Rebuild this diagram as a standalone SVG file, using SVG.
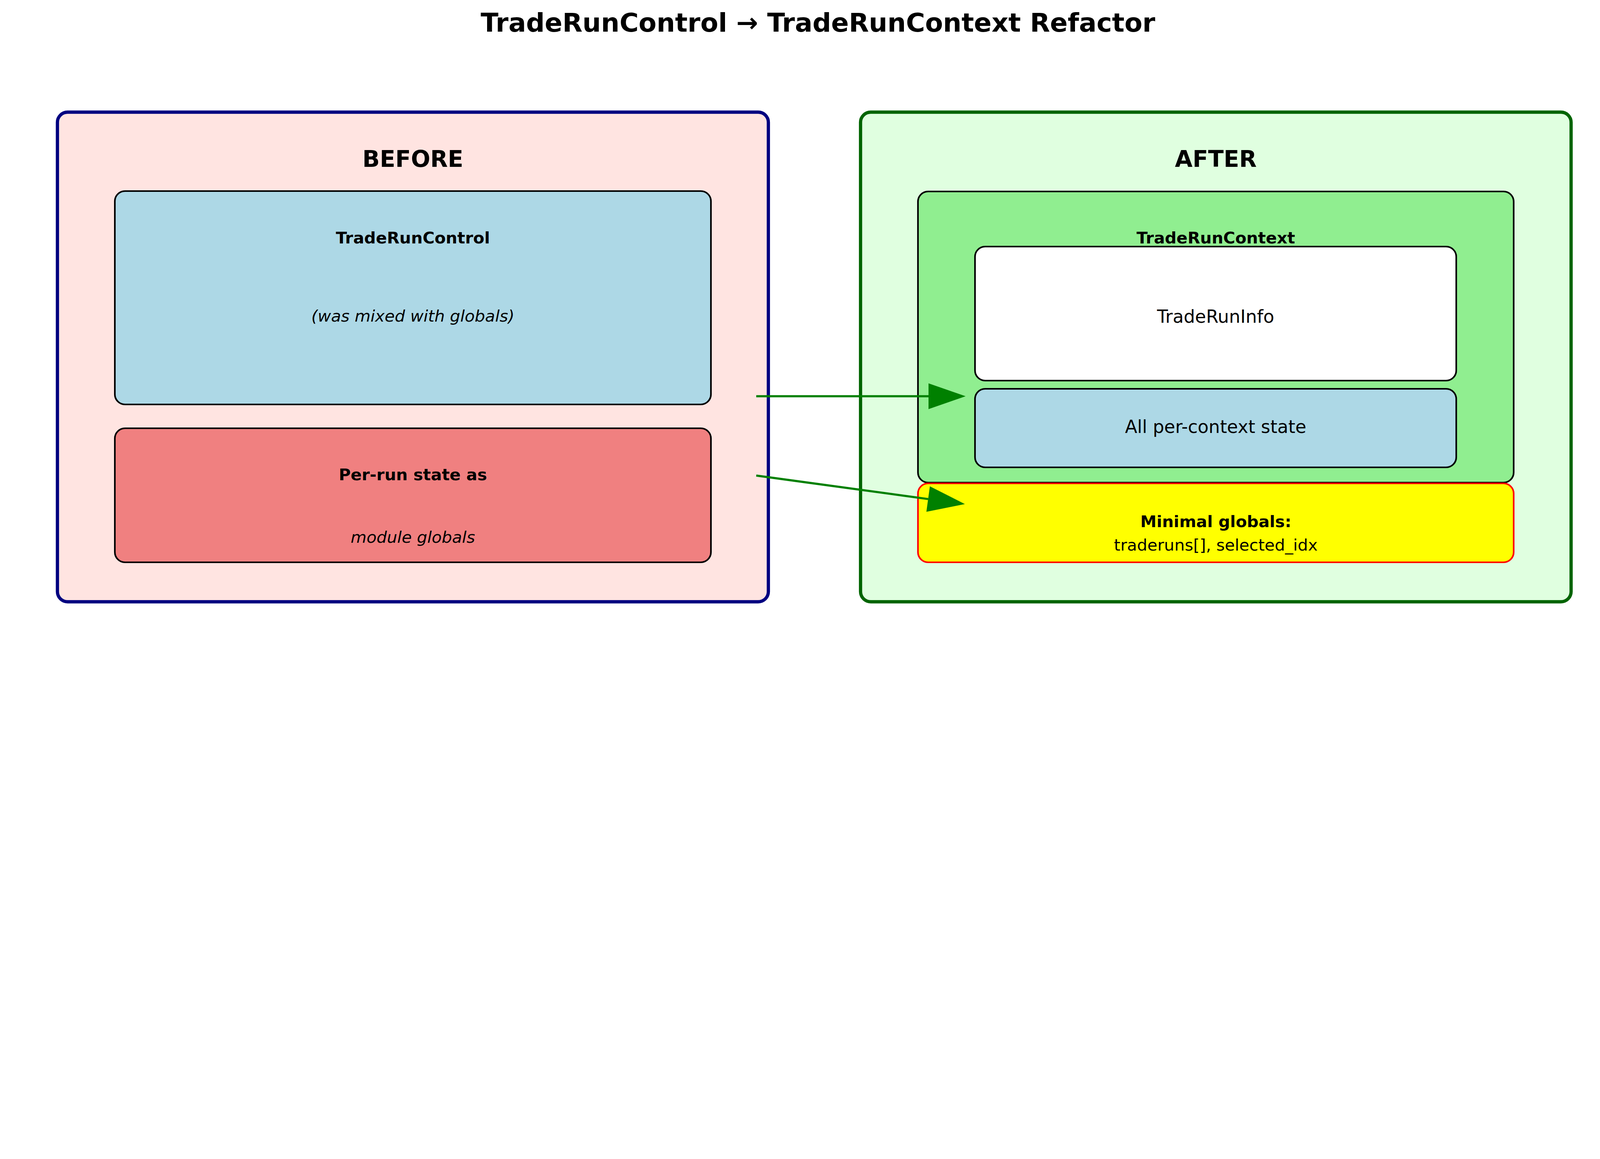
<svg xmlns="http://www.w3.org/2000/svg" width="4170" height="2966" viewBox="0 0 4170 2966">
<style>
  text { font-family: "DejaVu Sans", "Liberation Sans", sans-serif; fill: #000; text-anchor: middle; }
  .title { font-size: 66.7px; font-weight: bold; }
  .head { font-size: 58.3px; font-weight: bold; }
  .b10 { font-size: 41.7px; font-weight: bold; }
  .i10 { font-size: 41.7px; font-style: italic; }
  .n10 { font-size: 41.7px; }
  .n11 { font-size: 45.8px; }
  .inner { stroke: #000; stroke-width: 4.17; }
  .conn { stroke: #008000; stroke-width: 5.5; fill: none; marker-end: url(#ah); }
</style>
<defs>
  <marker id="ah" markerUnits="userSpaceOnUse" markerWidth="96" markerHeight="66" viewBox="0 0 95 66" refX="0" refY="33" orient="auto">
    <path d="M0,0 L95,33 L0,66 Z" fill="#008000"/>
  </marker>
</defs>
<rect x="0" y="0" width="4170" height="2966" fill="#ffffff"/>
<text class="title" x="2094" y="81">TradeRunControl → TradeRunContext Refactor</text>

<g id="before">
  <rect x="147" y="287" width="1820" height="1253" rx="26" ry="26" fill="#ffe4e1" stroke="#000080" stroke-width="8.33"/>
  <text class="head" x="1057" y="427">BEFORE</text>
</g>
<g id="after">
  <rect x="2203" y="287" width="1819" height="1253" rx="26" ry="26" fill="#e0ffe0" stroke="#006400" stroke-width="8.33"/>
  <text class="head" x="3112.5" y="427">AFTER</text>
</g>

<g id="traderuncontrol">
  <rect class="inner" x="294" y="489" width="1526" height="546" rx="26" ry="26" fill="#add8e6"/>
  <text class="b10" x="1057" y="623">TradeRunControl</text>
  <text class="i10" x="1057" y="823">(was mixed with globals)</text>
</g>
<g id="per-run-state">
  <rect class="inner" x="294" y="1096" width="1526" height="343" rx="26" ry="26" fill="#f08080"/>
  <text class="b10" x="1057" y="1229">Per-run state as</text>
  <text class="i10" x="1057" y="1389">module globals</text>
</g>

<g id="traderuncontext">
  <rect class="inner" x="2350" y="490" width="1525" height="745" rx="26" ry="26" fill="#90ee90"/>
  <text class="b10" x="3112.5" y="623">TradeRunContext</text>
</g>
<g id="traderuninfo">
  <rect class="inner" x="2496" y="631" width="1232" height="343" rx="26" ry="26" fill="#ffffff"/>
  <text class="n11" x="3112" y="826">TradeRunInfo</text>
</g>
<g id="per-context-state">
  <rect class="inner" x="2496" y="995" width="1232" height="201" rx="26" ry="26" fill="#add8e6"/>
  <text class="n11" x="3112" y="1108">All per-context state</text>
</g>
<g id="minimal-globals">
  <rect x="2350" y="1237" width="1525" height="202" rx="26" ry="26" fill="#ffff00" stroke="#ff0000" stroke-width="4.17"/>
  <text class="b10" x="3112.5" y="1349">Minimal globals:</text>
  <text class="n10" x="3112.5" y="1409">traderuns[], selected_idx</text>
</g>

<g id="connectors">
  <line class="conn" x1="1936" y1="1014" x2="2377" y2="1014"/>
  <line class="conn" x1="1936" y1="1217" x2="2376" y2="1277.1"/>
</g>
</svg>
